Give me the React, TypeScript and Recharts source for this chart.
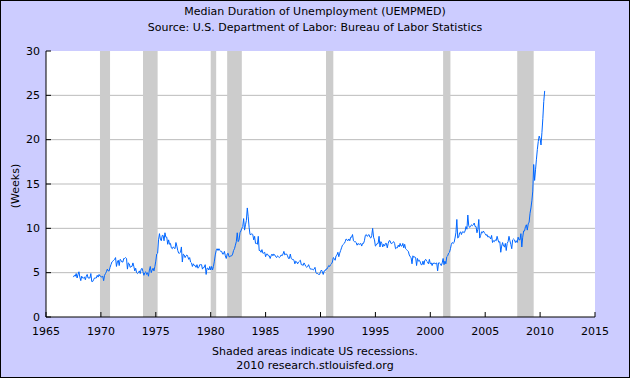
import { ComposedChart, Line, XAxis, YAxis, CartesianGrid, ReferenceArea } from 'recharts';

// monthly median duration of unemployment, weeks, starting Jul 1967
const firstYear = 1967;
const firstMonth = 7;
const medianWeeks: number[] = [
  4.5, 4.7, 4.6, 4.9, 4.4, 4.8, // 1967 (Jul-Dec)
  5.1, 4.5, 4.1, 4.6, 4.4, 4.4, 4.5, 4.2, 4.6, 4.8, 4.4, 4.4, // 1968
  4.4, 4.9, 4.0, 4.0, 4.2, 4.4, 4.4, 4.4, 4.7, 4.5, 4.8, 4.6, // 1969
  4.6, 4.5, 4.6, 4.1, 4.7, 4.9, 5.1, 5.4, 5.2, 5.2, 5.6, 5.9, // 1970
  6.2, 6.3, 6.4, 6.5, 6.7, 5.7, 6.2, 6.4, 5.8, 6.5, 6.4, 6.2, // 1971
  6.2, 6.6, 6.6, 6.7, 6.6, 5.4, 6.1, 6.0, 5.6, 5.7, 5.7, 6.1, // 1972
  5.7, 5.2, 5.5, 5.0, 4.9, 5.0, 5.2, 4.9, 5.4, 5.5, 5.1, 4.7, // 1973
  5.0, 5.1, 4.8, 5.0, 4.6, 5.3, 5.7, 5.0, 5.3, 5.5, 5.2, 5.7, // 1974
  6.3, 7.1, 7.2, 8.7, 9.4, 8.8, 8.6, 9.2, 9.2, 8.6, 9.5, 9.0, // 1975
  9.0, 8.2, 8.7, 8.2, 8.3, 7.8, 7.7, 7.9, 7.8, 7.7, 8.4, 8.0, // 1976
  7.5, 7.2, 7.2, 7.3, 7.9, 6.2, 7.1, 7.0, 6.7, 6.9, 7.0, 6.8, // 1977
  6.5, 6.7, 6.2, 6.1, 5.7, 6.0, 5.8, 5.8, 5.6, 5.9, 5.5, 5.6, // 1978
  5.9, 5.9, 5.9, 5.4, 5.6, 5.6, 5.9, 4.8, 5.5, 5.5, 5.3, 5.7, // 1979
  5.3, 5.7, 5.3, 5.7, 6.3, 7.0, 7.5, 7.7, 7.5, 7.7, 7.5, 7.4, // 1980
  7.4, 7.1, 7.1, 7.4, 6.9, 6.6, 7.1, 7.2, 6.8, 6.8, 6.9, 6.9, // 1981
  7.1, 7.5, 7.7, 8.1, 8.5, 9.5, 8.5, 8.7, 9.5, 9.7, 10.0, 10.2, // 1982
  11.1, 9.8, 10.4, 10.9, 12.3, 11.3, 10.1, 9.3, 9.3, 9.4, 9.3, 8.7, // 1983
  9.1, 8.3, 8.3, 8.2, 9.1, 7.5, 7.5, 7.3, 7.6, 7.2, 7.2, 7.3, // 1984
  6.8, 7.1, 7.1, 6.9, 6.9, 6.6, 6.9, 7.1, 6.9, 7.1, 7.0, 6.8, // 1985
  6.7, 6.9, 6.8, 6.7, 6.8, 7.0, 6.9, 7.1, 7.4, 7.0, 7.1, 7.1, // 1986
  6.9, 6.6, 6.6, 7.1, 6.6, 6.5, 6.5, 6.4, 6.0, 6.3, 6.2, 6.0, // 1987
  6.2, 6.3, 6.4, 5.9, 5.9, 5.8, 6.1, 5.9, 5.7, 5.6, 5.7, 5.9, // 1988
  5.6, 5.4, 5.4, 5.4, 5.3, 5.4, 5.6, 5.0, 4.9, 4.9, 4.8, 4.8, // 1989
  5.1, 5.3, 5.1, 4.8, 5.2, 5.2, 5.4, 5.4, 5.6, 5.8, 5.7, 5.9, // 1990
  6.0, 6.2, 6.7, 6.6, 6.4, 6.9, 7.0, 7.3, 6.8, 7.2, 7.5, 7.8, // 1991
  8.1, 8.2, 8.3, 8.5, 8.8, 8.7, 8.6, 8.8, 8.6, 9.0, 9.0, 9.3, // 1992
  8.6, 8.5, 8.5, 8.4, 8.1, 8.3, 8.2, 8.2, 8.3, 8.0, 8.3, 8.3, // 1993
  8.6, 9.2, 9.3, 9.1, 9.2, 9.3, 9.0, 8.9, 9.2, 10.0, 9.0, 8.7, // 1994
  8.0, 8.1, 8.3, 8.3, 9.1, 7.9, 8.5, 8.3, 7.9, 8.2, 8.0, 8.3, // 1995
  8.3, 7.8, 8.3, 8.6, 8.6, 8.3, 8.3, 8.4, 8.5, 8.3, 7.7, 7.8, // 1996
  7.8, 8.1, 7.9, 8.3, 8.0, 8.0, 8.3, 7.8, 8.2, 7.7, 7.6, 7.5, // 1997
  7.4, 7.0, 6.8, 6.7, 6.0, 6.9, 6.7, 6.8, 6.7, 5.8, 6.6, 6.3, // 1998
  6.4, 6.2, 5.9, 5.9, 6.3, 5.9, 6.4, 6.5, 6.3, 6.2, 6.0, 6.5, // 1999
  6.0, 6.1, 5.8, 6.1, 6.0, 6.1, 6.0, 6.1, 5.2, 6.1, 6.1, 6.0, // 2000
  5.8, 6.1, 6.6, 5.9, 6.3, 6.0, 6.8, 6.9, 7.2, 7.3, 7.7, 8.2, // 2001
  8.4, 8.3, 8.4, 8.9, 9.5, 11.0, 8.9, 9.0, 9.5, 9.6, 9.3, 9.6, // 2002
  9.6, 9.5, 9.7, 10.2, 9.9, 11.5, 10.3, 10.1, 10.2, 10.4, 10.3, 10.4, // 2003
  10.6, 10.2, 10.2, 9.5, 9.9, 11.0, 8.9, 9.2, 9.6, 9.5, 9.7, 9.5, // 2004
  9.4, 9.2, 9.3, 9.0, 9.1, 9.0, 8.8, 9.2, 8.4, 8.6, 8.5, 8.7, // 2005
  8.6, 9.1, 8.7, 8.4, 8.5, 7.3, 8.0, 8.4, 8.0, 7.9, 8.3, 7.5, // 2006
  8.3, 8.5, 9.1, 8.6, 8.2, 7.7, 8.7, 8.8, 8.7, 8.4, 8.6, 8.4, // 2007
  9.0, 8.7, 8.7, 9.4, 7.9, 9.0, 9.7, 9.7, 10.2, 10.4, 9.8, 10.5, // 2008
  10.7, 11.7, 12.3, 13.1, 14.2, 17.2, 15.4, 16.6, 17.8, 18.9, 19.8, 20.4, // 2009
  20.1, 19.4, 20.8, 22.4, 24.3, 25.5, // 2010 (Jan-Jun)
];

// NBER recessions, peak month to trough month
const recessionStarts = ['1969-12', '1973-11', '1980-01', '1981-07', '1990-07', '2001-03', '2007-12'];
const recessionEnds = ['1970-11', '1975-03', '1980-07', '1982-11', '1991-03', '2001-11', '2009-06'];

const xTicks = [1965, 1970, 1975, 1980, 1985, 1990, 1995, 2000, 2005, 2010, 2015];
const yTicks = [0, 5, 10, 15, 20, 25, 30];
const gridLevels = [5, 10, 15, 20, 25];

const FONT = '"DejaVu Sans", Verdana, sans-serif';

const monthToYear = (ym: string) => {
  const [y, m] = ym.split('-').map(Number);
  return y + (m - 1) / 12;
};

const chartData = medianWeeks.map((weeks, i) => {
  const monthIndex = firstMonth - 1 + i;
  return { date: firstYear + monthIndex / 12, weeks };
});

const XTick = (props: any) => {
  const { x, y, payload } = props;
  return (
    <g>
      <line x1={x} x2={x} y1={y} y2={y - 5} stroke="#000" />
      <text x={x} y={y + 14} textAnchor="middle" dominantBaseline="central" fill="#000" fontSize={11} fontFamily={FONT}>
        {payload.value}
      </text>
    </g>
  );
};

const YTick = (props: any) => {
  const { x, y, payload } = props;
  return (
    <g>
      <line x1={x} x2={x + 5} y1={y} y2={y} stroke="#000" />
      <text x={x - 6} y={y} textAnchor="end" dominantBaseline="central" fill="#000" fontSize={11} fontFamily={FONT}>
        {payload.value}
      </text>
    </g>
  );
};

const WeeksLabel = (props: any) => {
  const { viewBox } = props;
  if (!viewBox) return null;
  const cy = viewBox.y + viewBox.height / 2 + 2;
  return (
    <text
      x={15}
      y={cy}
      fill="#000"
      fontSize={11}
      fontFamily={FONT}
      textAnchor="middle"
      dominantBaseline="central"
      transform={`rotate(-90, 15, ${cy})`}
    >
      (Weeks)
    </text>
  );
};

const textStyle: React.CSSProperties = {
  position: 'absolute',
  left: 0,
  width: 630,
  textAlign: 'center',
  fontFamily: FONT,
  fontSize: 11,
  color: '#000',
  lineHeight: '14px',
};

export default function App() {
  return (
    <div style={{ position: 'absolute', top: 0, left: 0, width: 630, height: 378, background: '#ccccff', overflow: 'hidden' }}>
      <ComposedChart
        width={630}
        height={378}
        data={chartData}
        margin={{ top: 51, right: 35, bottom: 0, left: 0 }}
      >
        <CartesianGrid
          vertical={false}
          horizontalValues={gridLevels}
          stroke="#bbbbbb"
          fill="#ffffff"
          fillOpacity={1}
        />
        {recessionStarts.map((start, i) => (
          <ReferenceArea
            key={start}
            x1={monthToYear(start)}
            x2={monthToYear(recessionEnds[i])}
            fill="#cccccc"
            fillOpacity={1}
            stroke="none"
            ifOverflow="hidden"
          />
        ))}
        <XAxis
          dataKey="date"
          type="number"
          domain={[1965, 2015]}
          ticks={xTicks}
          interval={0}
          height={61}
          tickSize={0}
          tickMargin={0}
          tickLine={false}
          tick={XTick}
          axisLine={{ stroke: '#000' }}
          allowDataOverflow
        />
        <YAxis
          type="number"
          domain={[0, 30]}
          ticks={yTicks}
          interval={0}
          width={46}
          tickSize={0}
          tickMargin={0}
          tickLine={false}
          tick={YTick}
          axisLine={{ stroke: '#000' }}
          label={WeeksLabel}
          allowDataOverflow
        />
        <Line
          type="linear"
          dataKey="weeks"
          stroke="#0066ff"
          strokeWidth={1}
          dot={false}
          activeDot={false}
          isAnimationActive={false}
        />
      </ComposedChart>
      <div style={{ ...textStyle, top: 5 }}>Median Duration of Unemployment (UEMPMED)</div>
      <div style={{ ...textStyle, top: 21 }}>Source: U.S. Department of Labor: Bureau of Labor Statistics</div>
      <div style={{ ...textStyle, top: 345 }}>Shaded areas indicate US recessions.</div>
      <div style={{ ...textStyle, top: 359 }}>2010 research.stlouisfed.org</div>
      <div style={{ position: 'absolute', inset: 0, border: '1px solid #000', boxSizing: 'border-box', pointerEvents: 'none' }} />
    </div>
  );
}
